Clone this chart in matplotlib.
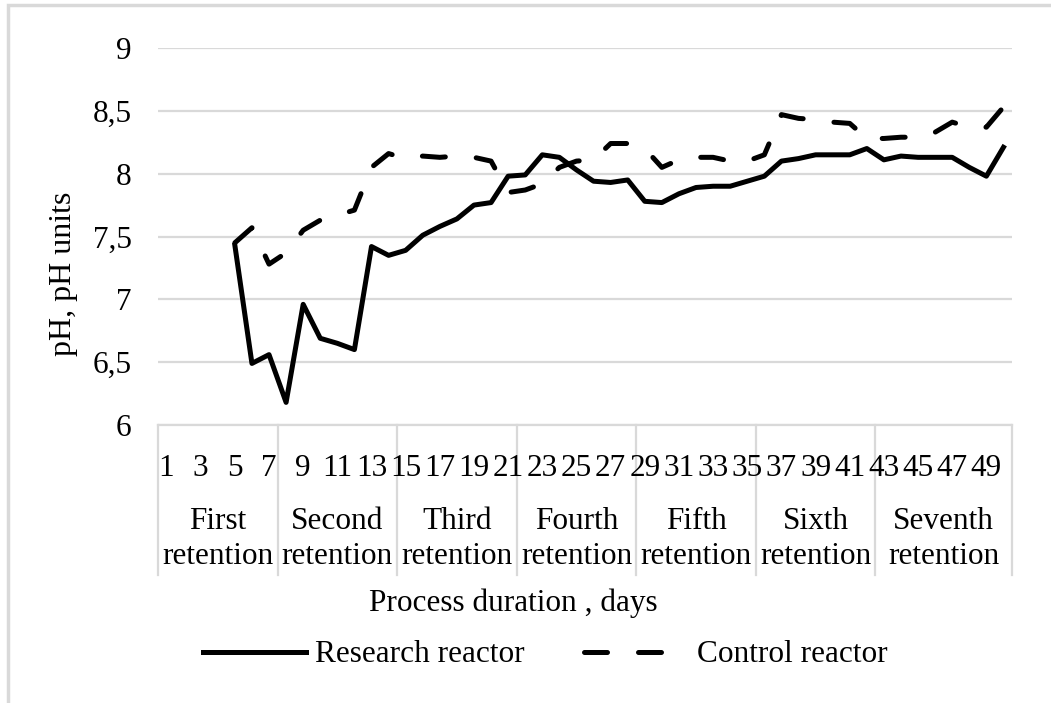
import numpy as np
import matplotlib.pyplot as plt
from matplotlib.patches import Rectangle

plt.rcParams['font.family'] = ['Liberation Serif', 'DejaVu Serif']

# ---------------- data ----------------
days = list(range(1, 51))
nan = np.nan
research = [nan, nan, nan, nan,
            7.43, 6.49, 6.56, 6.18, 6.96, 6.69, 6.65, 6.60, 7.42, 7.35,
            7.39, 7.51, 7.58, 7.64, 7.75, 7.77, 7.98, 7.99, 8.15, 8.13,
            8.03, 7.94, 7.93, 7.95, 7.78, 7.77, 7.84, 7.89, 7.90, 7.90,
            7.94, 7.98, 8.10, 8.12, 8.15, 8.15, 8.15, 8.20, 8.11, 8.14,
            8.13, 8.13, 8.13, 8.05, 7.98, 8.21]
control = [nan, nan, nan, nan,
           7.45, 7.57, 7.28, 7.37, 7.55, 7.63, 7.67, 7.71, 8.05, 8.16,
           8.12, 8.14, 8.13, 8.14, 8.13, 8.10, 7.85, 7.87, 7.92, 8.05,
           8.10, 8.11, 8.24, 8.24, 8.20, 8.05, 8.11, 8.13, 8.13, 8.10,
           8.10, 8.15, 8.47, 8.44, 8.43, 8.41, 8.40, 8.28, 8.28, 8.29,
           8.29, 8.33, 8.41, 8.37, 8.37, 8.53]
groups = ['First\nretention', 'Second\nretention', 'Third\nretention',
          'Fourth\nretention', 'Fifth\nretention', 'Sixth\nretention',
          'Seventh\nretention']
group_edges = [0.5, 7.5, 14.5, 21.5, 28.5, 35.5, 42.5, 50.5]
yticks = [6, 6.5, 7, 7.5, 8, 8.5, 9]
ytick_labels = ['6', '6,5', '7', '7,5', '8', '8,5', '9']

grey = '#d9d9d9'
fs = 22.5

fig = plt.figure(figsize=(10.51, 7.03), dpi=100)
W, H = 1051, 703
ax = fig.add_axes([158 / W, 1 - 425 / H, (1012 - 158) / W, (425 - 48) / H])

ax.plot(days, research, color='black', lw=3.6, solid_joinstyle='round',
        label='Research reactor')
ax.plot(days, control, color='black', lw=3.6, dashes=(4.6, 6.2),
        dash_capstyle='round', label='Control reactor')

ax.set_xlim(0.5, 50.5)
ax.set_ylim(6, 9)
ax.set_yticks(yticks)
ax.set_yticklabels(ytick_labels, fontsize=fs)
ax.tick_params(axis='y', length=0, pad=19)
ax.yaxis.grid(True, color=grey, lw=1.6)
ax.set_axisbelow(True)
for s in ['top', 'right', 'left']:
    ax.spines[s].set_visible(False)
ax.spines['bottom'].set_color(grey)
ax.spines['bottom'].set_linewidth(1.6)

odd = days[::2]
ax.set_xticks(odd)
ax.set_xticklabels([str(d) for d in odd], fontsize=fs)
ax.tick_params(axis='x', length=0, pad=21)

# table-like separators under the axis (behind the tick labels)
tr = ax.get_xaxis_transform()
for e in group_edges:
    ax.plot([e, e], [0, -0.398], transform=tr, color=grey, lw=1.6,
            clip_on=False, zorder=0.3)
for i, g in enumerate(groups):
    xc = (group_edges[i] + group_edges[i + 1]) / 2
    ax.text(xc, -0.303, g, transform=tr, ha='center', va='center',
            fontsize=fs, linespacing=1.28)

ax.set_ylabel('pH, pH units', fontsize=fs + 0.5)
ax.yaxis.set_label_coords(-0.094, 0.40)

fig.text(513 / W, 1 - 603 / H, 'Process duration , days', ha='center',
         va='center', fontsize=fs)

fig.legend(loc='center', bbox_to_anchor=(545 / W, 1 - 655 / H), ncol=2,
           frameon=False, fontsize=fs, handlelength=3.3, columnspacing=1.9,
           handletextpad=0.3)

# outer border of the chart area
fig.patches.append(Rectangle((8 / W, -0.1), 1.2, 1 - 5 / H + 0.1,
                             transform=fig.transFigure, fill=False,
                             edgecolor=grey, lw=2.5))

fig.savefig('out.png', dpi=100)
